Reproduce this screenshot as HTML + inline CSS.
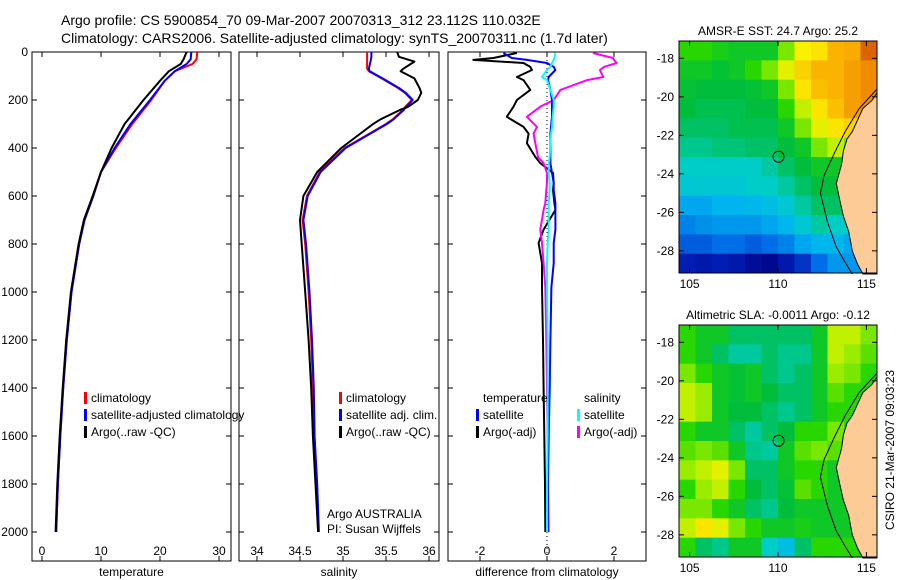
<!DOCTYPE html>
<html><head><meta charset="utf-8"><style>
body{margin:0;background:#fff;}
svg{display:block;font-family:"Liberation Sans",sans-serif;}
</style></head><body>
<svg id="c" width="900" height="580" viewBox="0 0 900 580"></svg>
<script>
// ---------- data ----------
const depthT=[0,30,50,80,120,200,300,400,500,600,700,800,1000,1200,1400,1600,1800,2000];
const tClim=[26.3,26.2,25.5,22.5,20.8,18.5,15.3,12.5,10.0,8.7,7.2,6.3,5.0,4.2,3.6,3.1,2.7,2.4];
const tSat=[25.3,25.2,24.5,22.5,20.8,18.3,15.0,12.3,10.0,8.7,7.2,6.3,5.0,4.2,3.6,3.1,2.7,2.4];
const tArgo=[24.5,24.0,23.5,21.5,20.0,17.2,14.0,11.8,10.0,8.6,7.1,6.2,4.9,4.1,3.5,3.0,2.6,2.3];
const depthS=[0,20,40,70,80,110,150,170,200,230,240,280,300,400,500,600,700,800,1000,1200,1400,1600,1800,2000];
const sClim=[35.28,35.28,35.28,35.28,35.30,35.45,35.64,35.72,35.80,35.72,35.70,35.58,35.50,35.02,34.73,34.58,34.53,34.56,34.60,34.63,34.65,34.66,34.69,34.71];
const sSat=[35.33,35.33,35.32,35.30,35.31,35.46,35.65,35.73,35.81,35.73,35.71,35.59,35.51,35.03,34.74,34.59,34.54,34.57,34.61,34.64,34.66,34.67,34.70,34.72];
const sArgo=[35.63,35.65,35.83,35.70,35.67,35.83,35.89,35.91,35.87,35.75,35.67,35.44,35.35,34.98,34.70,34.54,34.50,34.52,34.56,34.60,34.63,34.65,34.68,34.71];
const depthD=[4,25,33,46,62,75,104,117,158,200,228,270,312,340,380,437,463,504,546,575,630,658,740,796,880,980,1200,1400,1600,1800,2000];
const dTSat=[-1.3,-1.05,-0.6,0.0,0.2,0.25,0.05,0.03,0.1,0.15,0.15,0.15,0.12,0.1,0.1,0.1,0.1,0.15,0.2,0.2,0.25,0.25,0.25,0.2,0.2,0.13,0.1,0.08,0.05,0.03,0.02];
const dTArgo=[-0.9,-1.6,-2.2,-0.7,-0.5,-0.45,-0.9,-0.7,-0.5,-0.9,-1.0,-1.2,-0.7,-0.55,-0.6,-0.35,-0.2,0.18,0.2,0.18,0.22,0.25,-0.1,-0.25,-0.15,-0.15,-0.12,-0.1,-0.08,-0.06,-0.05];
const dSSat=[0.25,0.22,0.2,0.15,0.1,0.0,-0.15,0.0,0.1,0.2,0.2,0.17,0.15,0.12,0.1,0.08,0.05,0.05,0.08,0.08,0.05,0.05,0.05,0.02,0.0,0.0,0.02,0.02,0.02,0.0,0.0];
const dSArgo=[1.37,1.97,2.0,2.08,1.7,1.58,1.68,1.2,0.4,0.2,-0.2,-0.6,-0.3,-0.4,-0.35,-0.27,-0.1,0.0,0.0,-0.02,-0.05,-0.1,-0.2,-0.15,-0.1,-0.05,-0.02,0.0,0.02,0.03,0.05];
const depthTicks=[0,200,400,600,800,1000,1200,1400,1600,1800,2000];
const tTicks=[0,10,20,30];
const sTicks=[34,34.5,35,35.5,36];
const sTickLabels=["34","34.5","35","35.5","36"];
const dTicks=[-2,0,2];
const latTicks=[-18,-20,-22,-24,-26,-28];
const lonTicks=[105,110,115];
// map grids (normalized colour value 0..1; -1 = land) rows from -17.1 southward, cols from 104.4 eastward
const sstGrid=[
[0.55,0.55,0.52,0.5,0.5,0.5,0.6,0.7,0.72,0.8,0.82,0.95],
[0.5,0.5,0.48,0.5,0.55,0.6,0.68,0.75,0.8,0.8,0.85,0.9],
[0.48,0.47,0.47,0.47,0.48,0.5,0.6,0.72,0.78,0.8,0.85,0.9],
[0.47,0.46,0.46,0.46,0.47,0.47,0.55,0.65,0.72,0.78,0.85,0.88],
[0.45,0.45,0.45,0.46,0.46,0.46,0.5,0.6,0.68,0.72,0.75,0.8],
[0.43,0.43,0.44,0.44,0.45,0.45,0.47,0.5,0.6,0.65,0.6,0.6],
[0.4,0.4,0.4,0.4,0.4,0.42,0.45,0.47,0.5,0.5,0.5,0.5],
[0.38,0.38,0.38,0.38,0.4,0.4,0.42,0.45,0.47,0.47,0.5,0.5],
[0.3,0.3,0.32,0.32,0.33,0.35,0.38,0.42,0.45,0.45,0.5,0.5],
[0.25,0.27,0.28,0.28,0.28,0.3,0.33,0.38,0.42,0.4,0.4,0.4],
[0.2,0.2,0.22,0.22,0.2,0.22,0.25,0.3,0.33,0.33,0.3,0.3],
[0.12,0.1,0.12,0.1,0.05,0.03,0.1,0.15,0.22,0.28,0.28,0.28]];
const slaGrid=[
[0.55,0.5,0.5,0.45,0.45,0.45,0.45,0.45,0.5,0.65,0.65,0.6],
[0.55,0.5,0.45,0.42,0.42,0.45,0.43,0.43,0.5,0.65,0.62,0.58],
[0.6,0.55,0.5,0.48,0.5,0.45,0.43,0.45,0.5,0.62,0.6,0.55],
[0.65,0.62,0.5,0.48,0.5,0.47,0.45,0.45,0.5,0.58,0.55,0.55],
[0.65,0.62,0.5,0.47,0.47,0.45,0.43,0.45,0.5,0.55,0.55,0.55],
[0.55,0.5,0.5,0.45,0.42,0.45,0.47,0.55,0.55,0.6,0.55,0.55],
[0.58,0.6,0.58,0.5,0.43,0.42,0.5,0.58,0.6,0.58,0.55,0.55],
[0.62,0.65,0.68,0.6,0.45,0.45,0.5,0.55,0.55,0.5,0.5,0.5],
[0.55,0.62,0.65,0.55,0.47,0.45,0.48,0.58,0.55,0.5,0.5,0.5],
[0.6,0.6,0.55,0.5,0.45,0.43,0.47,0.5,0.5,0.5,0.5,0.5],
[0.65,0.72,0.68,0.6,0.55,0.5,0.5,0.52,0.5,0.5,0.5,0.5],
[0.55,0.45,0.43,0.5,0.5,0.4,0.35,0.45,0.55,0.55,0.55,0.55]];
const coastLon=[115.6,115.3,114.8,114.2,113.9,113.7,113.6,113.3,113.5,113.7,114.0,114.2,114.5,114.8,115.6];
const coastLat=[-19.8,-20.2,-20.6,-21.8,-22.2,-22.8,-23.5,-24.5,-25.4,-26.2,-27.0,-28.0,-28.7,-29.2,-29.2];
const shelfLon=[115.6,114.6,113.8,113.2,112.6,112.4,112.8,113.3,113.8,114.2];
const shelfLat=[-19.6,-20.6,-21.8,-22.9,-24.1,-25.0,-26.5,-27.8,-28.6,-29.2];
const argoLon=110.03, argoLat=-23.11;

// ---------- helpers ----------
const NS="http://www.w3.org/2000/svg";
const svg=document.getElementById('c');
function mk(tag,attrs,parent){const e=document.createElementNS(NS,tag);for(const k in attrs)e.setAttribute(k,attrs[k]);(parent||svg).appendChild(e);return e;}
function txt(x,y,s,anchor,size,parent){const t=mk('text',{x:x,y:y,'font-size':size||12,'text-anchor':anchor||'start',fill:'#000'},parent);t.textContent=s;return t;}
const yTop=52,yBot=561;
function yD(d){return yTop+d*0.24;}
function panel(name,x0,x1,xs,ticks,labels,xlabel,showY){
  const g=mk('g',{});
  
  
  const f=mk('rect',{x:x0,y:yTop,width:x1-x0,height:yBot-yTop,fill:'none',stroke:'#000','stroke-width':1},g);
  
  ticks.forEach((t,i)=>{const x=xs(t);
    mk('line',{x1:x,y1:yBot,x2:x,y2:yBot-5,stroke:'#000'},g);mk('line',{x1:x,y1:yTop,x2:x,y2:yTop+5,stroke:'#000'},g);
    const l=txt(x,577-22,labels[i],'middle',12,g);});
  depthTicks.forEach(d=>{const y=yD(d);
    mk('line',{x1:x0,y1:y,x2:x0+5,y2:y,stroke:'#000'},g);mk('line',{x1:x1,y1:y,x2:x1-5,y2:y,stroke:'#000'},g);
    if(showY){const l=txt(28,y+4,String(d),'end',12,g);}});
  const xl=txt((x0+x1)/2,576,xlabel,'middle',12,g);
  return g;}
function line(g,name,xs,vals,depths,color,w){
  const p=vals.map((v,i)=>xs(v).toFixed(1)+','+yD(depths[i]).toFixed(1)).join(' ');
  const e=mk('polyline',{points:p,fill:'none',stroke:color,'stroke-width':w||2,'stroke-linejoin':'round'},g);
  }
function legend(g,x,y,color,label){
  if(color){const b=mk('rect',{x:x,y:y-10,width:3,height:12,fill:color},g);}
  const t=txt(x+7,y,label,'start',12,g);}

// titles
let t1=txt(61,25,'Argo profile: CS 5900854_70 09-Mar-2007 20070313_312 23.112S 110.032E','start',14);

let t2=txt(61,43,'Climatology: CARS2006. Satellite-adjusted climatology: synTS_20070311.nc (1.7d later)','start',14);


// panel 1 temperature
const xT=v=>42+v*5.9;
const g1=panel('temperature-panel',32,231,xT,tTicks,tTicks.map(String),'temperature',true);
line(g1,'temperature-climatology',xT,tClim,depthT,'#f00');
line(g1,'temperature-satellite',xT,tSat,depthT,'#00f');
line(g1,'temperature-argo',xT,tArgo,depthT,'#000');
legend(g1,84,402,'#f00','climatology');legend(g1,84,419,'#00f','satellite-adjusted climatology');legend(g1,84,436,'#000','Argo(..raw -QC)');
// panel 2 salinity
const xS=v=>257+(v-34)*86;
const g2=panel('salinity-panel',239,439,xS,sTicks,sTickLabels,'salinity',false);
line(g2,'salinity-climatology',xS,sClim,depthS,'#f00');
line(g2,'salinity-satellite',xS,sSat,depthS,'#00f');
line(g2,'salinity-argo',xS,sArgo,depthS,'#000');
legend(g2,339,402,'#f00','climatology');legend(g2,339,419,'#00f','satellite adj. clim.');legend(g2,339,436,'#000','Argo(..raw -QC)');
let a1=txt(327,518,'Argo AUSTRALIA','start',12,g2);
let a2=txt(327,533,'PI: Susan Wijffels','start',12,g2);
// panel 3 differences
const xDf=v=>547+v*33.5;
const g3=panel('difference-panel',448,646,xDf,dTicks,dTicks.map(String),'difference from climatology',false);
let z=mk('line',{x1:xDf(0),y1:yTop,x2:xDf(0),y2:yBot,stroke:'#000','stroke-dasharray':'1,3'},g3);

line(g3,'diff-temp-argo',xDf,dTArgo,depthD,'#000');
line(g3,'diff-sal-argo',xDf,dSArgo,depthD,'#f0f');
line(g3,'diff-temp-satellite',xDf,dTSat,depthD,'#00f');
line(g3,'diff-sal-satellite',xDf,dSSat,depthD,'#0ff');
legend(g3,476,402,null,'temperature');legend(g3,476,419,'#00f','satellite');legend(g3,476,436,'#000','Argo(-adj)');
legend(g3,577,402,null,'salinity');legend(g3,577,419,'#0ff','satellite');legend(g3,577,436,'#f0f','Argo(-adj)');

// ---------- maps ----------
const stops=[[0,[0,0,130]],[0.12,[0,30,180]],[0.22,[0,110,230]],[0.32,[0,180,240]],[0.4,[0,205,200]],[0.47,[0,190,60]],[0.55,[40,215,0]],[0.63,[170,240,0]],[0.7,[250,240,0]],[0.8,[250,180,0]],[0.9,[240,140,0]],[1,[200,60,0]]];
function cmap(v){for(let i=1;i<stops.length;i++){if(v<=stops[i][0]){const a=stops[i-1],b=stops[i],t=(v-a[0])/(b[0]-a[0]);return 'rgb('+a[1].map((c,k)=>Math.round(c+(b[1][k]-c)*t)).join(',')+')';}}return 'rgb(200,60,0)';}
function map(name,top,bot,grid,title){
  const x0=679,x1=877,lon0=104.4,lon1=115.6,lat0=-17.1,lat1=-29.15;
  const X=lo=>x0+(lo-lon0)/(lon1-lon0)*(x1-x0), Y=la=>top+(la-lat0)/(lat1-lat0)*(bot-top);
  const g=mk('g',{});
  const nr=grid.length,nc=grid[0].length,cw=(x1-x0)/nc,ch=(bot-top)/nr;
  grid.forEach((row,r)=>row.forEach((v,c)=>{const e=mk('rect',{x:x0+c*cw,y:top+r*ch,width:cw+0.5,height:ch+0.5,fill:cmap(v)},g);
    }));
  const lp=coastLon.map((lo,i)=>X(lo).toFixed(1)+','+Y(coastLat[i]).toFixed(1)).join(' ');
  const land=mk('polygon',{points:lp,fill:'#fccb96',stroke:'#000','stroke-width':1},g);
  const sp=shelfLon.map((lo,i)=>X(lo).toFixed(1)+','+Y(shelfLat[i]).toFixed(1)).join(' ');
  const sh=mk('polyline',{points:sp,fill:'none',stroke:'#000','stroke-width':1},g);
  const ci=mk('circle',{cx:X(argoLon),cy:Y(argoLat),r:5.5,fill:'none',stroke:'#000','stroke-width':1},g);
  mk('rect',{x:x0,y:top,width:x1-x0,height:bot-top,fill:'none',stroke:'#000'},g);
  latTicks.forEach(la=>{const y=Y(la);mk('line',{x1:x0,y1:y,x2:x0+5,y2:y,stroke:'#000'},g);mk('line',{x1:x1,y1:y,x2:x1-5,y2:y,stroke:'#000'},g);
    const l=txt(x0-5,y+4,String(la),'end',12,g);});
  lonTicks.forEach(lo=>{const x=X(lo);mk('line',{x1:x,y1:top,x2:x,y2:top+5,stroke:'#000'},g);mk('line',{x1:x,y1:bot,x2:x,y2:bot-5,stroke:'#000'},g);
    const l=txt(x,bot+15,String(lo),'middle',12,g);});
  const tt=txt((x0+x1)/2,top-6,title,'middle',12,g);
}
map('sst-map',41,273,sstGrid,'AMSR-E SST: 24.7  Argo: 25.2');
map('sla-map',325,557,slaGrid,'Altimetric SLA: -0.0011  Argo: -0.12');
const cs=mk('text',{x:0,y:0,'font-size':12,'text-anchor':'middle',transform:'translate(894,450) rotate(-90)'});
cs.textContent='CSIRO 21-Mar-2007 09:03:23';


</script>
</body></html>
